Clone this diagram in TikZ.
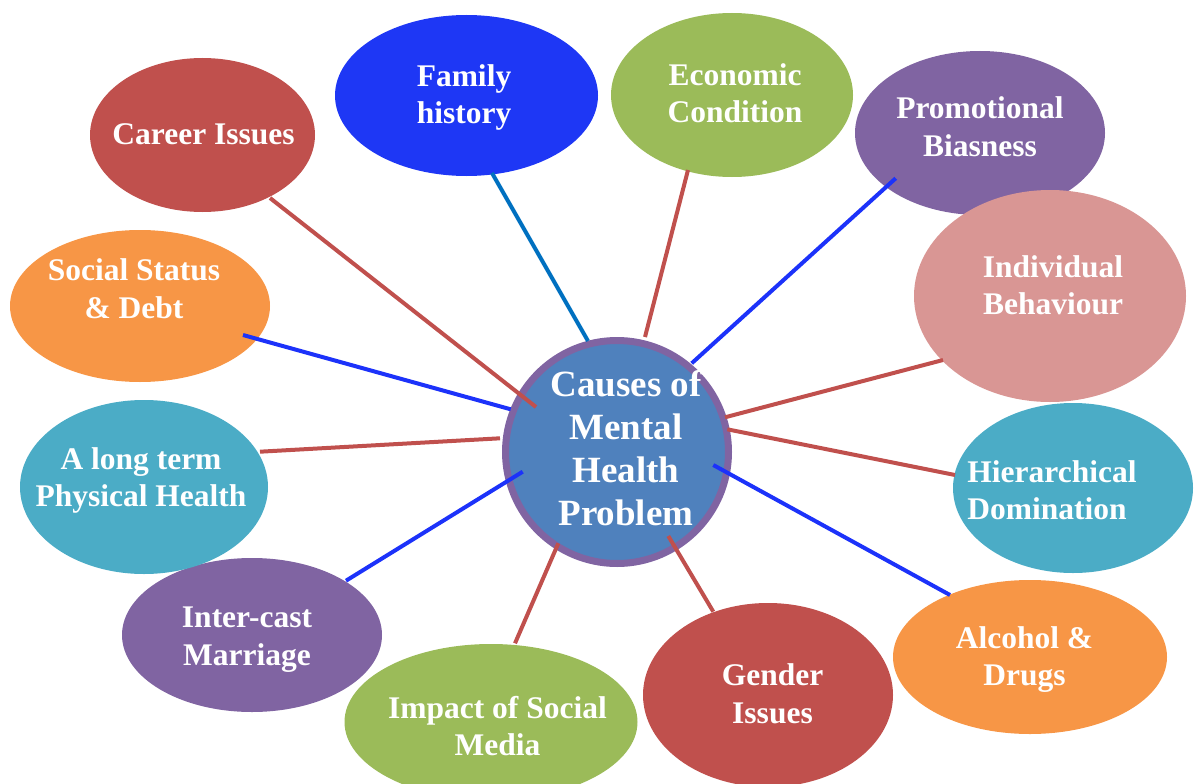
\documentclass[tikz,border=0pt]{standalone}
\usepackage{fontspec}
\setmainfont{Liberation Serif}
\usetikzlibrary{shapes.geometric,calc}
\definecolor{cred}{HTML}{C0504D}
\definecolor{cblue}{RGB}{30,55,245}
\definecolor{cgreen}{HTML}{9BBB59}
\definecolor{cpurple}{HTML}{8064A2}
\definecolor{cpink}{HTML}{D99694}
\definecolor{cteal}{HTML}{4BACC6}
\definecolor{corange}{HTML}{F79646}
\definecolor{ccenter}{HTML}{4F81BD}
\definecolor{lblue}{RGB}{28,50,250}
\definecolor{ldblue}{HTML}{0070C0}
\tikzset{
  bubble/.style={ellipse, inner sep=0pt, draw=none},
  btext/.style={text=white, font=\bfseries\fontsize{31.5}{37.5}\selectfont, align=center, inner sep=0pt},
  ctext/.style={text=white, font=\bfseries\fontsize{37}{43}\selectfont, align=center, inner sep=0pt},
  link/.style={line width=4pt},
}
\begin{document}
\begin{tikzpicture}[x=1pt,y=1pt]
\useasboundingbox (0,0) rectangle (1197,-784);
% ellipses
\node[bubble, fill=cred, minimum width=225pt, minimum height=154pt] (career) at (202.5,-135) {};
\node[bubble, fill=cblue, minimum width=263pt, minimum height=161pt] (family) at (466.5,-95.5) {};
\node[bubble, fill=cgreen, minimum width=242pt, minimum height=164pt] (econ) at (732,-95) {};
\node[bubble, fill=cpurple, minimum width=250pt, minimum height=164pt] (promo) at (980,-133) {};
\node[bubble, fill=cpink, minimum width=272pt, minimum height=212pt] (indiv) at (1050,-296) {};
\node[bubble, fill=cteal, minimum width=240pt, minimum height=170pt] (hier) at (1073,-488) {};
\node[bubble, fill=corange, minimum width=274pt, minimum height=154pt] (alco) at (1030,-657) {};
\node[bubble, fill=cred, minimum width=250pt, minimum height=184pt] (gender) at (768,-695) {};
\node[bubble, fill=cpurple, minimum width=260pt, minimum height=154pt] (inter) at (252,-635) {};
\node[bubble, fill=cgreen, minimum width=293pt, minimum height=156pt] (impact) at (491,-722) {};
\node[bubble, fill=cteal, minimum width=248pt, minimum height=174pt] (phys) at (144,-487) {};
\node[bubble, fill=corange, minimum width=260pt, minimum height=152pt] (social) at (140,-306) {};
% centre
\node[circle, fill=ccenter, draw=cpurple, line width=7pt, minimum size=223pt, inner sep=0pt] (cen) at (617,-452) {};
% connectors
\draw[link, cred] ($(career)+(67.5,-63)$) -- ($(cen)+(-81,45)$);
\draw[link, ldblue] ($(family)+(25.5,-77.5)$) -- ($(cen)+(-29,111)$);
\draw[link, cred] ($(econ)+(-44,-75)$) -- ($(cen)+(28,115)$);
\draw[link, lblue] ($(promo)+(-84.3,-45.3)$) -- ($(cen)+(74.7,88.7)$);
\draw[link, cred] ($(indiv)+(-107,-64)$) -- ($(cen)+(108,34.7)$);
\draw[link, cred] ($(hier)+(-118,13)$) -- ($(cen)+(110.3,22.7)$);
\draw[link, lblue] ($(alco)+(-80,62)$) -- ($(cen)+(96.3,-13)$);
\draw[link, cred] ($(gender)+(-54.7,83.3)$) -- ($(cen)+(51.3,-84)$);
\draw[link, cred] ($(impact)+(24,78.7)$) -- ($(cen)+(-58.7,-91.3)$);
\draw[link, lblue] ($(inter)+(94,54.3)$) -- ($(cen)+(-94.3,-19.7)$);
\draw[link, cred] ($(phys)+(116,35.3)$) -- ($(cen)+(-117,13.7)$);
\draw[link, lblue] ($(social)+(103,-29)$) -- ($(cen)+(-106.3,42.7)$);
% texts
\node[btext] (tcareer) at (203.5,-134.5) {Career Issues};
\node[btext] (tfamily) at (464,-97.5) {Family\\history};
\node[btext] (tecon) at (735,-93.2) {Economic\\Condition};
\node[btext] (tpromo) at (980,-126.5) {Promotional\\Biasness};
\node[btext] (tindiv) at (1053,-285.5) {Individual\\Behaviour};
\node[btext, align=left] (thier) at (1052,-490.3) {Hierarchical\\Domination};
\node[btext] (talco) at (1024.5,-659.7) {Alcohol \&\\Drugs};
\node[btext] (tgender) at (772.5,-694) {Gender\\Issues};
\node[btext] (timpact) at (497.5,-726) {Impact of Social\\Media};
\node[btext] (tinter) at (247,-639.5) {Inter-cast\\Marriage};
\node[btext] (tphys) at (141,-480.3) {A long term\\Physical Health};
\node[btext] (tsocial) at (134,-288.5) {Social Status\\\& Debt};
\node[ctext] (tcen) at (626,-448.3) {Causes of\\Mental\\Health\\Problem};
\end{tikzpicture}
\end{document}
